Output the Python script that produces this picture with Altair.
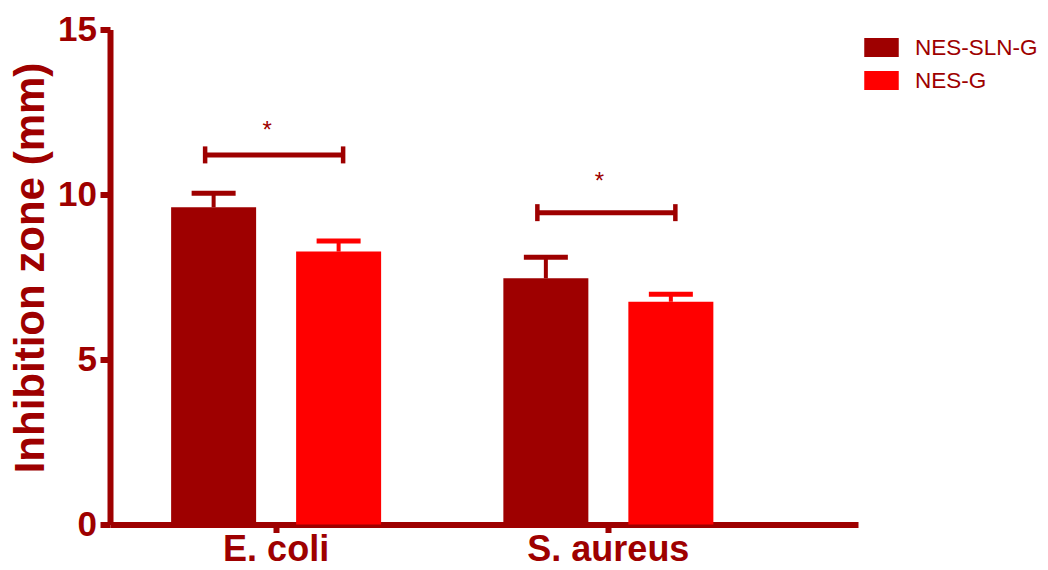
import altair as alt
import pandas as pd

# ---- data ----
categories = ["E. coli", "E. coli", "S. aureus", "S. aureus"]
series = ["NES-SLN-G", "NES-G", "NES-SLN-G", "NES-G"]
means = [9.61, 8.27, 7.46, 6.75]
errors = [0.43, 0.32, 0.64, 0.23]

sig_categories = ["E. coli", "S. aureus"]
sig_bracket_y = [11.20, 9.45]
sig_star_y = [11.72, 10.17]
sig_labels = ["*", "*"]

category_order = ["E. coli", "S. aureus"]
series_order = ["NES-SLN-G", "NES-G"]
series_colors = ["#9e0000", "#ff0000"]
y_tick_values = [0, 5, 10, 15]

DARK = "#9e0000"
FONT = "Liberation Sans"

df = pd.DataFrame({
    "cat": categories,
    "series": series,
    "mean": means,
    "top": [m + e for m, e in zip(means, errors)],
})
sig = pd.DataFrame({
    "cat": sig_categories,
    "bracket": sig_bracket_y,
    "star": sig_star_y,
    "label": sig_labels,
})

x_scale = alt.Scale(domain=category_order, paddingInner=0, paddingOuter=0.1257, align=0)
y_scale = alt.Scale(domain=[0, 15], nice=False, zero=True)
color_scale = alt.Scale(domain=series_order, range=series_colors)
xoff = alt.XOffset("series:N", scale=alt.Scale(domain=series_order, paddingInner=0.32, paddingOuter=0.489))

x_axis = alt.Axis(
    title=None, domainColor=DARK, domainWidth=6, tickColor=DARK, tickWidth=6, tickSize=8,
    labelFont=FONT, labelFontSize=36, labelFontWeight="bold", labelColor=DARK,
    labelBaseline="alphabetic", labelPadding=28, labelAngle=0, grid=False,
)
y_axis = alt.Axis(
    title="Inhibition zone (mm)", values=y_tick_values, domainColor=DARK, domainWidth=6,
    tickColor=DARK, tickWidth=6, tickSize=10, labelFont=FONT, labelFontSize=35,
    labelFontWeight="bold", labelColor=DARK, labelPadding=3.5, grid=False,
    titleFont=FONT, titleFontSize=42, titleFontWeight="bold", titleColor=DARK,
    titleX=-67, titleY=238, titleBaseline="alphabetic", titleAlign="center",
)

base = alt.Chart(df)

bars = base.mark_bar(cornerRadius=0, opacity=1).encode(
    x=alt.X("cat:N", scale=x_scale, axis=x_axis),
    xOffset=xoff,
    y=alt.Y("mean:Q", scale=y_scale, axis=y_axis),
    color=alt.Color("series:N", scale=color_scale, title=None),
)

stems = base.mark_rule(strokeWidth=4, opacity=1).encode(
    x=alt.X("cat:N", scale=x_scale),
    xOffset=xoff,
    y=alt.Y("mean:Q", scale=y_scale),
    y2="top:Q",
    color=alt.Color("series:N", scale=color_scale, title=None),
)

caps = base.mark_tick(size=44, thickness=5, orient="horizontal", opacity=1).encode(
    x=alt.X("cat:N", scale=x_scale),
    xOffset=xoff,
    y=alt.Y("top:Q", scale=y_scale),
    color=alt.Color("series:N", scale=color_scale, title=None),
)

sbase = alt.Chart(sig)
bracket = sbase.mark_rule(strokeWidth=5, color=DARK, opacity=1, xOffset=-71, x2Offset=67).encode(
    x=alt.X("cat:N", scale=x_scale),
    x2="cat:N",
    y=alt.Y("bracket:Q", scale=y_scale),
)
end_left = sbase.mark_tick(orient="vertical", size=17, thickness=4.5, color=DARK, opacity=1, xOffset=-71).encode(
    x=alt.X("cat:N", scale=x_scale),
    y=alt.Y("bracket:Q", scale=y_scale),
)
end_right = sbase.mark_tick(orient="vertical", size=17, thickness=4.5, color=DARK, opacity=1, xOffset=67).encode(
    x=alt.X("cat:N", scale=x_scale),
    y=alt.Y("bracket:Q", scale=y_scale),
)
stars = sbase.mark_text(font=FONT, fontSize=24, color=DARK, dx=-9, baseline="alphabetic", align="center").encode(
    x=alt.X("cat:N", scale=x_scale),
    y=alt.Y("star:Q", scale=y_scale),
    text="label:N",
)

chart = alt.layer(bars, stems, caps, bracket, end_left, end_right, stars).properties(
    width=748, height=495,
    autosize=alt.AutoSizeParams(type="none"),
    padding={"left": 102, "top": 21.5, "right": 182, "bottom": 37.5},
).configure_view(stroke=None).configure_legend(
    orient="none", legendX=754, legendY=0.5, padding=0,
    symbolType="M-1,-0.55H1V0.55H-1Z", symbolSize=1190, symbolStrokeWidth=0,
    symbolOpacity=1,
    labelFont=FONT, labelFontSize=22.5, labelColor=DARK, labelOffset=16, rowPadding=4,
    labelLimit=300,
)

chart.save("out.html", embed_options={"renderer": "svg", "actions": False})
